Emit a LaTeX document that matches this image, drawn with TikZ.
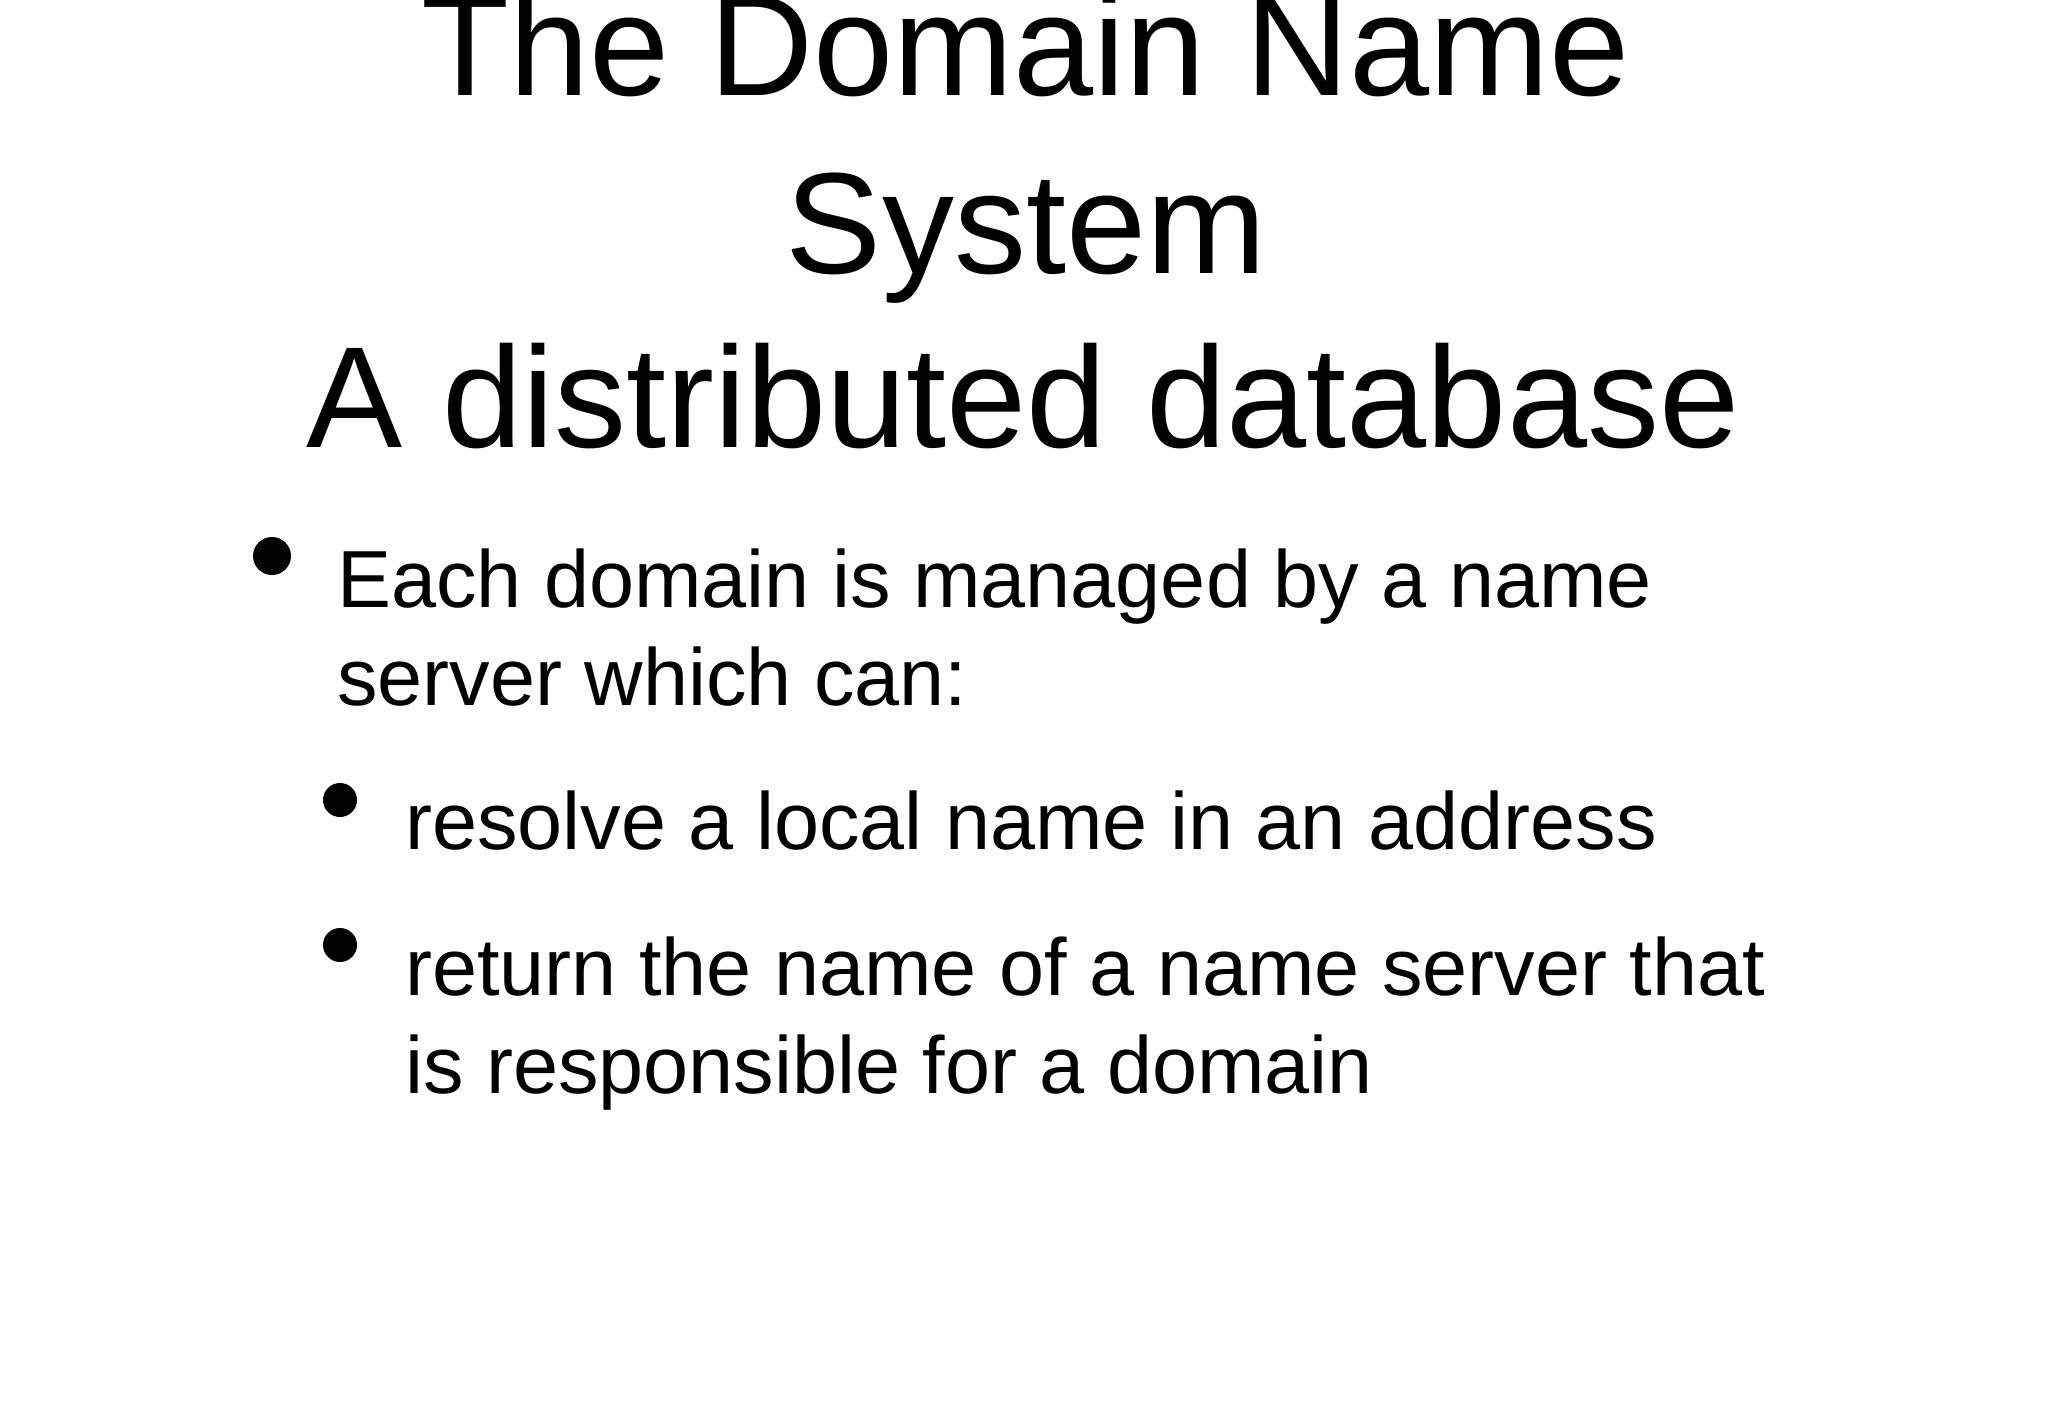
\documentclass[tikz,border=0pt]{standalone}
\usepackage{fontspec}
\setmainfont{Liberation Sans}
\begin{document}
\begin{tikzpicture}[x=1pt,y=-1pt,
  title/.style={font=\fontsize{144}{175}\selectfont,anchor=base,inner sep=0},
  body/.style={font=\fontsize{81}{98}\selectfont,anchor=base west,inner sep=0},
  dot/.style={circle,fill=black,inner sep=0,minimum size=38}]
\useasboundingbox (0,0) rectangle (2048,1418);
\node[title] (t1) at (1026,96) {The Domain Name};
\node[title] (t2) at (1026,273) {System};
\node[title] (t3) at (1023,447) {A distributed database};
\node[dot] (d1) at (272,556) {};
\node[body] (b1) at (337,607) {Each domain is managed by a name};
\node[body] (b1b) at (337,705) {server which can:};
\node[dot,minimum size=34] (d2) at (340,800) {};
\node[body] (b2) at (405,849) {resolve a local name in an address};
\node[dot,minimum size=34] (d3) at (340,945) {};
\node[body] (b3) at (405,995) {return the name of a name server that};
\node[body] (b3b) at (405,1093) {is responsible for a domain};
\end{tikzpicture}
\end{document}
